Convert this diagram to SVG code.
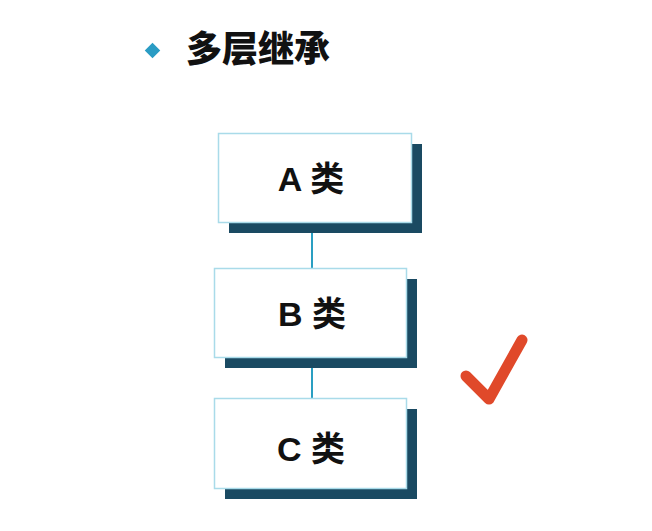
<svg xmlns="http://www.w3.org/2000/svg" width="652" height="531" viewBox="0 0 652 531">
<style>
.shadow{fill:#1a4a62}
.box{fill:#ffffff;stroke:#a9dbe9;stroke-width:1.5}
.lbl{font-family:"Liberation Sans","Noto Sans CJK SC",sans-serif;font-weight:bold;font-size:34px;fill:#111;text-anchor:middle}
.conn{stroke:#2a9fc2;stroke-width:2;fill:none}
</style>
<rect width="652" height="531" fill="#ffffff"/>
<g id="title">
<rect x="147" y="45" width="11" height="11" fill="#2a9cc4" transform="rotate(45 152.5 50.5)"/>
<text x="186" y="62" font-family="'Noto Sans CJK SC',sans-serif" font-weight="900" font-size="36" fill="#111">多层继承</text>
</g>
<g id="connectors">
<line class="conn" x1="312" y1="222" x2="312" y2="268"/>
<line class="conn" x1="312" y1="358" x2="312" y2="398"/>
</g>
<g id="nodeA">
<rect class="shadow" x="229" y="144" width="193" height="89"/>
<rect class="box" x="218.5" y="133.5" width="193" height="89"/>
<text class="lbl" x="311" y="191">A 类</text>
</g>
<g id="nodeB">
<rect class="shadow" x="225" y="279" width="192" height="89"/>
<rect class="box" x="214.5" y="268.5" width="192" height="89"/>
<text class="lbl" x="312" y="326">B 类</text>
</g>
<g id="nodeC">
<rect class="shadow" x="225" y="409" width="192" height="90"/>
<rect class="box" x="214.5" y="398.5" width="192" height="90"/>
<text class="lbl" x="311" y="461">C 类</text>
</g>
<g id="check">
<polyline points="466,376 489,399 522,340" fill="none" stroke="#e0492a" stroke-width="11" stroke-linecap="round" stroke-linejoin="round"/>
</g>
</svg>
